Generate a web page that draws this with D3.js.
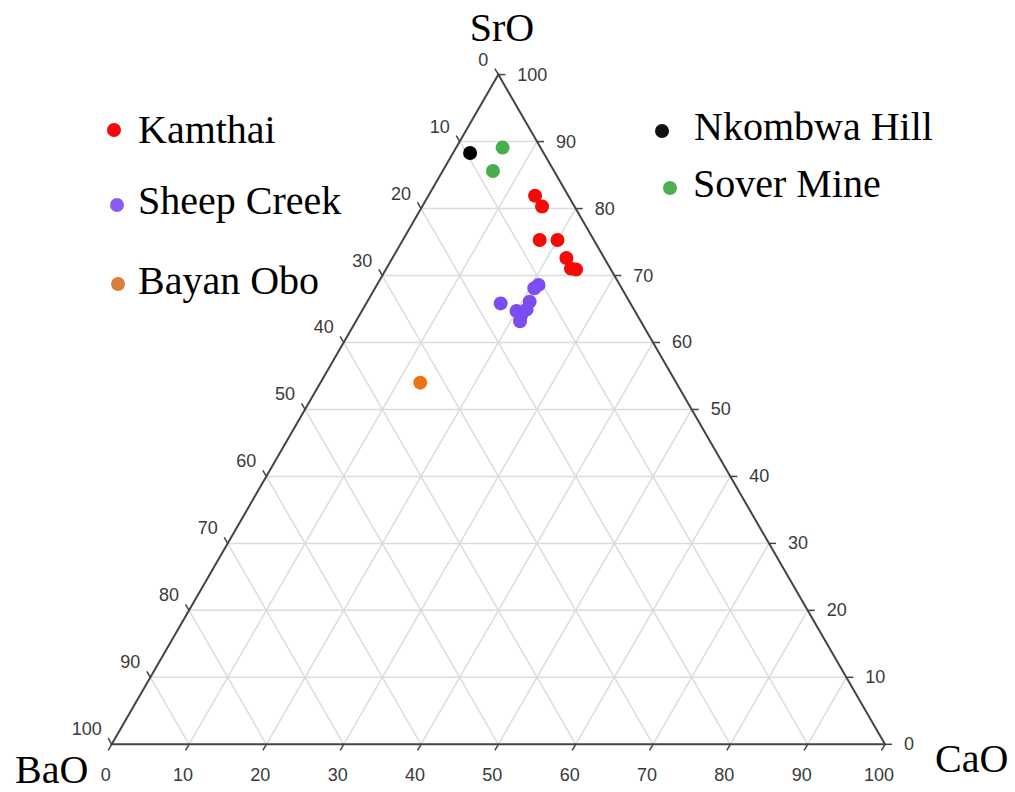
<!DOCTYPE html>
<html>
<head>
<meta charset="utf-8">
<script src="https://cdn.jsdelivr.net/npm/d3@7"></script>
<style>
  body { margin: 0; background: #fff; }
  svg { display: block; }
</style>
</head>
<body>
<div id="chart-area"></div>
<script>
// ternary data, % values (SrO, BaO, CaO)
var kamthaiSrO = [81.9, 80.3, 75.3, 75.3, 72.6, 71.1, 70.9],
    kamthaiBaO = [4.3, 4.2, 7.0, 4.7, 4.9, 5.1, 4.5],
    kamthaiCaO = [13.8, 15.5, 17.7, 20.0, 22.5, 23.9, 24.6];

var sheepSrO = [68.6, 68.1, 65.9, 66.1, 64.9, 64.7, 64.1, 63.1],
    sheepBaO = [10.5, 11.3, 16.8, 12.9, 13.9, 15.3, 15.0, 15.6],
    sheepCaO = [20.9, 20.6, 17.4, 21.0, 21.2, 20.0, 20.9, 21.2];

var bayanSrO = [54.0],
    bayanBaO = [33.1],
    bayanCaO = [12.9];

var nkombwaSrO = [88.2],
    nkombwaBaO = [9.5],
    nkombwaCaO = [2.2];

var soverSrO = [89.1, 85.6],
    soverBaO = [4.9, 7.9],
    soverCaO = [6.0, 6.5];

var tickValues = [0, 10, 20, 30, 40, 50, 60, 70, 80, 90, 100];

var series = [
    { name: "Kamthai", color: "#f50a0a", legendColor: "#f50a0a", s: kamthaiSrO, b: kamthaiBaO, c: kamthaiCaO },
    { name: "Sheep Creek", color: "#7c4df2", legendColor: "#8a5cf5", s: sheepSrO, b: sheepBaO, c: sheepCaO },
    { name: "Bayan Obo", color: "#ee7314", legendColor: "#d97f3b", s: bayanSrO, b: bayanBaO, c: bayanCaO },
    { name: "Nkombwa Hill", color: "#000000", legendColor: "#111111", s: nkombwaSrO, b: nkombwaBaO, c: nkombwaCaO },
    { name: "Sover Mine", color: "#47ad4f", legendColor: "#4caf50", s: soverSrO, b: soverBaO, c: soverCaO }
];

var width = 1015, height = 792;

var svg = d3.select("#chart-area").append("svg")
    .attr("width", width)
    .attr("height", height);

// triangle geometry
var left = 111.7, right = 885, bottom = 744.3;
var top_ = bottom - (right - left) * Math.sqrt(3) / 2;

// x runs with CaO + SrO/2, y with SrO
var x = d3.scaleLinear().domain([0, 100]).range([left, right]);
var y = d3.scaleLinear().domain([0, 100]).range([bottom, top_]);

function project(s, b, c) {
    var tot = s + b + c;
    s = s / tot * 100; c = c / tot * 100;
    return [x(c + s / 2), y(s)];
}

var A = project(100, 0, 0), B = project(0, 100, 0), C = project(0, 0, 100);

// grid
var grid = svg.append("g").attr("class", "grid")
    .attr("stroke", "#dcdcdc")
    .attr("stroke-width", 1.5)
    .attr("fill", "none");

tickValues.slice(1, -1).forEach(function(k) {
    // SrO = k
    var p1 = project(k, 100 - k, 0), p2 = project(k, 0, 100 - k);
    grid.append("line").attr("x1", p1[0]).attr("y1", p1[1]).attr("x2", p2[0]).attr("y2", p2[1]);
    // BaO = k
    p1 = project(100 - k, k, 0); p2 = project(0, k, 100 - k);
    grid.append("line").attr("x1", p1[0]).attr("y1", p1[1]).attr("x2", p2[0]).attr("y2", p2[1]);
    // CaO = k
    p1 = project(100 - k, 0, k); p2 = project(0, 100 - k, k);
    grid.append("line").attr("x1", p1[0]).attr("y1", p1[1]).attr("x2", p2[0]).attr("y2", p2[1]);
});

// frame
svg.append("path")
    .attr("d", "M" + A + "L" + B + "L" + C + "Z")
    .attr("fill", "none")
    .attr("stroke", "#444")
    .attr("stroke-width", 2);

var tickLen = 7;
var axes = svg.append("g").attr("class", "axes")
    .attr("font-family", "Helvetica, Arial, 'Liberation Sans', sans-serif")
    .attr("font-size", "18px")
    .attr("fill", "#3a3a3a");

tickValues.forEach(function(k) {
    // left axis: BaO
    var p = project(100 - k, k, 0);
    axes.append("line")
        .attr("x1", p[0]).attr("y1", p[1])
        .attr("x2", p[0] - tickLen * 0.5).attr("y2", p[1] - tickLen * 0.866)
        .attr("stroke", "#444").attr("stroke-width", 1.5);
    axes.append("text")
        .attr("x", p[0] - 10).attr("y", p[1] - 9)
        .attr("text-anchor", "end")
        .text(k);

    // bottom axis: CaO
    p = project(0, 100 - k, k);
    axes.append("line")
        .attr("x1", p[0]).attr("y1", p[1])
        .attr("x2", p[0] - tickLen * 0.5).attr("y2", p[1] + tickLen * 0.866)
        .attr("stroke", "#444").attr("stroke-width", 1.5);
    axes.append("text")
        .attr("x", p[0] - 6).attr("y", p[1] + 37)
        .attr("text-anchor", "middle")
        .text(k);

    // right axis: SrO
    p = project(k, 0, 100 - k);
    axes.append("line")
        .attr("x1", p[0]).attr("y1", p[1])
        .attr("x2", p[0] + tickLen).attr("y2", p[1])
        .attr("stroke", "#444").attr("stroke-width", 1.5);
    axes.append("text")
        .attr("x", p[0] + 19).attr("y", p[1] + 6)
        .attr("text-anchor", "start")
        .text(k);
});

// axis titles
var serif = "'Times New Roman', 'Liberation Serif', serif";
svg.append("text").attr("x", 502).attr("y", 41)
    .attr("text-anchor", "middle")
    .attr("font-family", serif).attr("font-size", "40px")
    .text("SrO");
svg.append("text").attr("x", 15).attr("y", 783)
    .attr("font-family", serif).attr("font-size", "40px")
    .text("BaO");
svg.append("text").attr("x", 935).attr("y", 772)
    .attr("font-family", serif).attr("font-size", "40px")
    .text("CaO");

// points
series.forEach(function(sr) {
    var pts = sr.s.map(function(d, i) { return project(sr.s[i], sr.b[i], sr.c[i]); });
    svg.append("g").selectAll("circle")
        .data(pts)
        .enter().append("circle")
        .attr("cx", function(d) { return d[0]; })
        .attr("cy", function(d) { return d[1]; })
        .attr("r", 7)
        .attr("fill", sr.color);
});

// legend
var legendPos = [
    { dot: [114, 130], text: [138, 143] },
    { dot: [117, 205], text: [138, 214] },
    { dot: [118, 284], text: [138, 294] },
    { dot: [662, 131], text: [694, 140] },
    { dot: [670, 188], text: [693, 197] }
];
var legend = svg.append("g").attr("class", "legend");
series.forEach(function(sr, i) {
    var lp = legendPos[i];
    legend.append("circle")
        .attr("cx", lp.dot[0]).attr("cy", lp.dot[1])
        .attr("r", 7)
        .attr("fill", sr.legendColor);
    legend.append("text")
        .attr("x", lp.text[0]).attr("y", lp.text[1])
        .attr("font-family", serif).attr("font-size", "40px")
        .attr("fill", "#000")
        .text(sr.name);
});
</script>
</body>
</html>
